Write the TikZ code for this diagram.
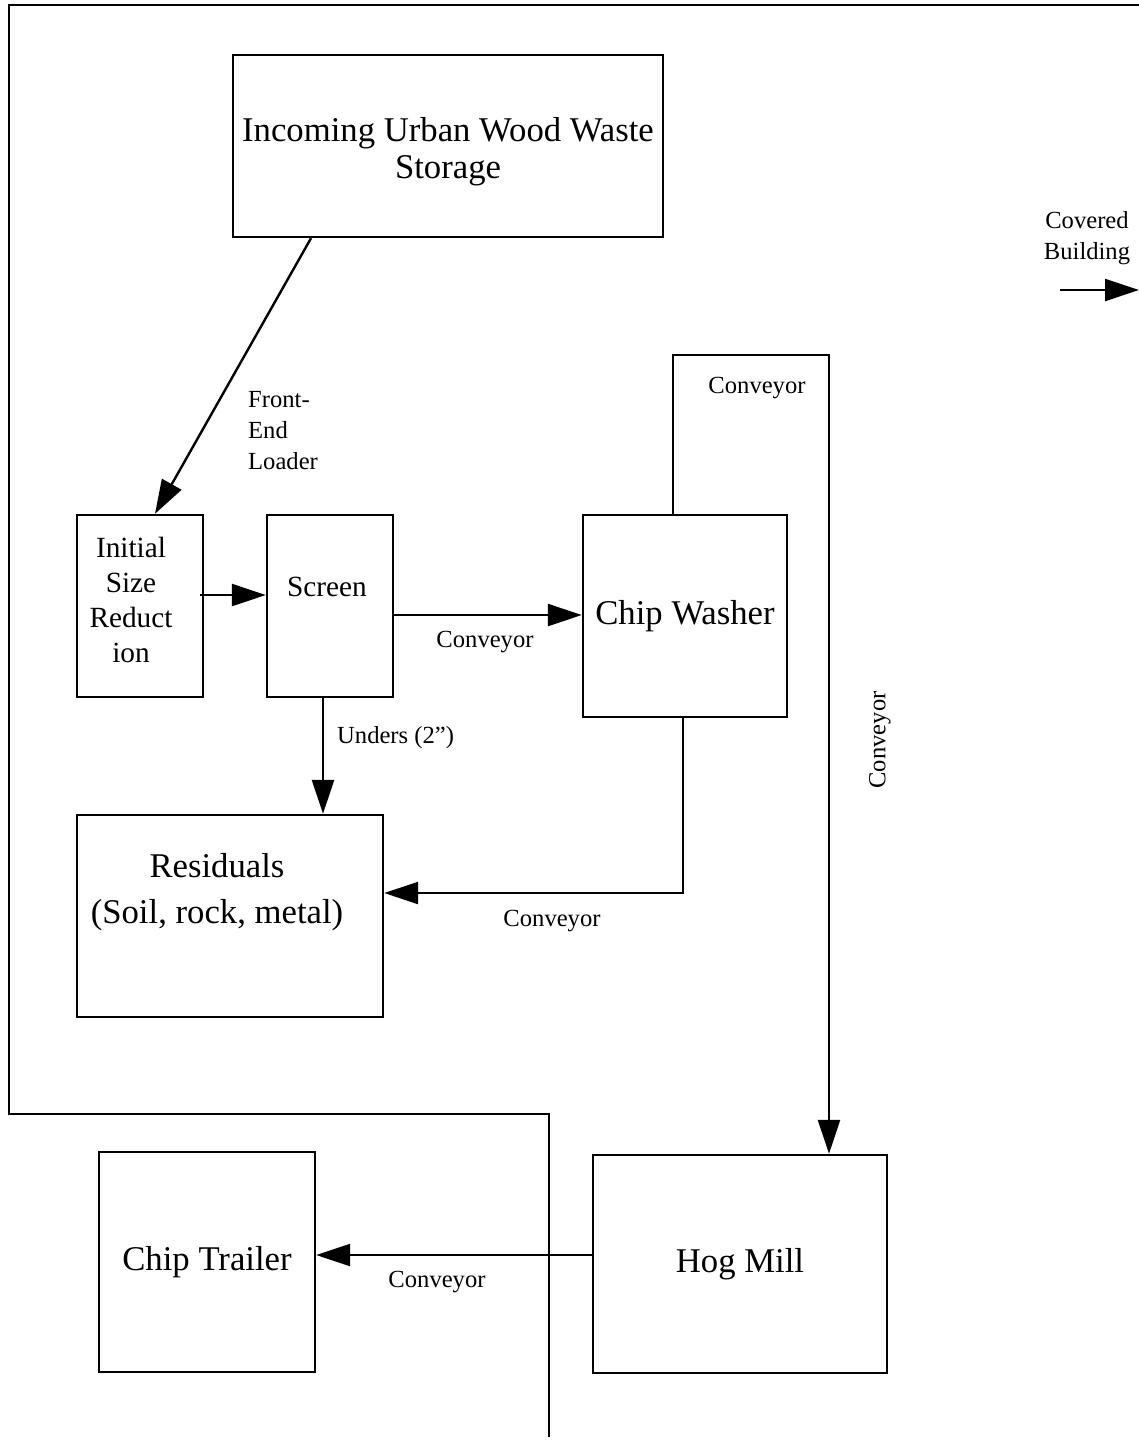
\documentclass[tikz,border=0pt]{standalone}
\usepackage{fontspec}
\setmainfont{Liberation Serif}
\usetikzlibrary{arrows.meta,calc}
\newcommand\myBig{\fontsize{34.7}{40}\selectfont}
\newcommand\myMid{\fontsize{29.3}{35}\selectfont}
\newcommand\mySmall{\fontsize{24.6}{31}\selectfont}
\begin{document}
\begin{tikzpicture}[x=1pt,y=-1pt,
  box/.style args={#1/#2}{draw,line width=2.4pt,inner sep=0pt,minimum width=#1pt,minimum height=#2pt,font=\myBig},
  arr/.style={line width=2.4pt,-{Triangle[length=34pt,width=22pt]}},
  ln/.style={line width=2.4pt},
  lbl/.style={font=\mySmall,inner sep=0pt,align=center},
  mid/.style={font=\myMid,inner sep=0pt,align=center}]
\useasboundingbox (0,0) rectangle (1139,1441);
% building outline
\draw[ln] (1139,5) -- (9,5) -- (9,1114) -- (549,1114) -- (549,1437);
% boxes
\node[box=430/182] (inc) at (448,146) {};
\node[font=\fontsize{34.7}{37}\selectfont,align=center,inner sep=0pt] (inct) at (448,152) {Incoming Urban Wood Waste\\Storage};
\node[box=126/182] (init) at (140,606) {};
\node[mid] (initt) at (131,600) {Initial\\Size\\Reduct\\ion};
\node[box=126/182] (scr) at (330,606) {};
\node[mid] (scrt) at (327,587) {Screen};
\node[box=204/202] (wash) at (685,616) {Chip Washer};
\node[box=306/202] (res) at (230,916) {};
\node[font=\fontsize{34.7}{46}\selectfont,align=center,inner sep=0pt] (rest) at (217,892) {Residuals\\(Soil, rock, metal)};
\node[box=216/220] (ct) at (207,1262) {Chip Trailer};
\node[box=294/218] (hog) at (740,1264) {Hog Mill};
% covered building legend
\node[lbl] (cov) at (1087,238) {Covered\\Building};
\coordinate (cb1) at (1060,290);
\coordinate (cb2) at (1139,290);
\draw[arr] (cb1) -- (cb2);
% connectors
\coordinate (i1) at ([xshift=-137pt]inc.south);
\coordinate (i1e) at ([xshift=15pt]init.north);
\draw[arr] (i1) -- (i1e);
\node[lbl,align=left,anchor=west] (fel) at (248,431) {Front-\\End\\Loader};
\coordinate (i2) at ([xshift=-4pt,yshift=11pt]init.east);
\draw[arr] (i2) -- (i2 -| scr.west);
\coordinate (s1) at ([yshift=-9pt]scr.east);
\draw[arr] (s1) -- (s1 -| wash.west);
\node[lbl] (c1l) at (485,642) {Conveyor};
\coordinate (w1) at ([xshift=-12pt]wash.north);
\coordinate (c1) at (829,355);
\draw[arr] (w1) |- (c1) -- (c1 |- hog.north);
\node[lbl] (c2l) at (757,388) {Conveyor};
\node[lbl,rotate=90] (c3l) at (880,740) {Conveyor};
\coordinate (s2) at ([xshift=-7pt]scr.south);
\draw[arr] (s2) -- (s2 |- res.north);
\node[lbl,anchor=west] (und) at (337,738) {Unders (2”)};
\coordinate (w2) at ([xshift=-2pt]wash.south);
\coordinate (r1) at ([yshift=23pt]res.east);
\draw[arr] (w2) |- (r1);
\node[lbl] (c4l) at (552,921) {Conveyor};
\coordinate (h1) at ([yshift=9pt]hog.west);
\draw[arr] (h1) -- (h1 -| ct.east);
\node[lbl] (c5l) at (437,1282) {Conveyor};
\end{tikzpicture}
\end{document}
